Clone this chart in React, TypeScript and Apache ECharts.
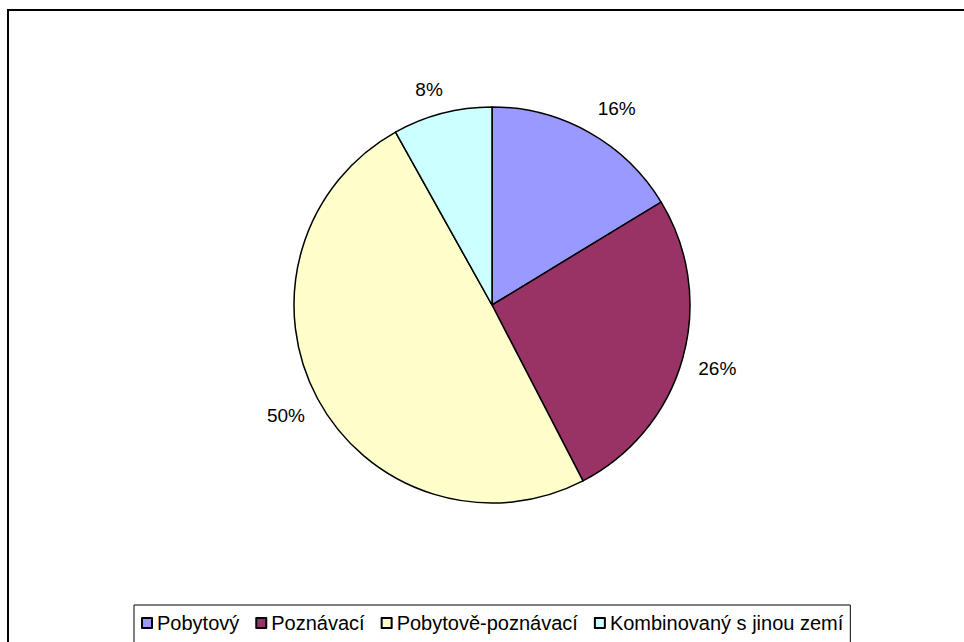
import React, { useEffect, useRef } from "react";
import * as echarts from "echarts";

const categories = ["Pobytový", "Poznávací", "Pobytově-poznávací", "Kombinovaný s jinou zemí"];
const values = [16.3, 26.1, 49.5, 8.1];
const colors = ["#9999FF", "#993366", "#FFFFCC", "#CCFFFF"];

export default function App() {
  const ref = useRef<HTMLDivElement>(null);
  useEffect(() => {
    if (!ref.current) return;
    const chart = echarts.init(ref.current, null, { renderer: "svg" });
    const labelNudge: Record<string, [number, number]> = {
      "Pobytový": [10, 7],
      "Kombinovaný s jinou zemí": [-4, 11],
    };
    const data = categories.map((name, i) => ({
      name,
      value: values[i],
      itemStyle: { color: colors[i] },
    }));
    chart.setOption({
      animation: false,
      backgroundColor: "#ffffff",
      textStyle: { fontFamily: "Liberation Sans, Arial, sans-serif" },
      graphic: [
        {
          type: "rect",
          shape: { x: 8, y: 10, width: 1000, height: 700 },
          style: { fill: "none", stroke: "#000", lineWidth: 2 },
          silent: true,
          z: -10,
        },
      ],
      legend: {
        data: categories,
        left: 134,
        top: 605,
        orient: "horizontal",
        icon: "rect",
        itemWidth: 10,
        itemHeight: 10,
        itemGap: 16,
        padding: [8, 7, 40, 7],
        borderColor: "#000",
        borderWidth: 1,
        backgroundColor: "#fff",
        selectedMode: false,
        textStyle: { fontSize: 20, color: "#000", fontFamily: "Liberation Sans, Arial, sans-serif" },
      },
      series: [
        {
          type: "pie",
          center: [492, 305],
          radius: [0, 198],
          startAngle: 90,
          clockwise: true,
          silent: true,
          label: { show: false },
          labelLine: { show: false },
          itemStyle: { borderColor: "#000", borderWidth: 1.5 },
          data,
        },
        {
          type: "pie",
          center: [492, 305],
          radius: [0, 462],
          startAngle: 90,
          clockwise: true,
          silent: true,
          itemStyle: { color: "rgba(0,0,0,0)", borderWidth: 0 },
          label: {
            show: true,
            position: "inside",
            fontSize: 19,
            color: "#000",
            fontFamily: "Liberation Sans, Arial, sans-serif",
            formatter: (p: any) => Math.round(p.percent) + "%",
          },
          labelLine: { show: false },
          data: categories.map((name, i) => ({
            name,
            value: values[i],
            label: labelNudge[name] ? { offset: labelNudge[name] } : undefined,
          })),
        },
      ],
    });
    return () => chart.dispose();
  }, []);
  return (
    <div
      ref={ref}
      style={{ position: "fixed", left: 0, top: 0, width: 964, height: 642 }}
    />
  );
}
